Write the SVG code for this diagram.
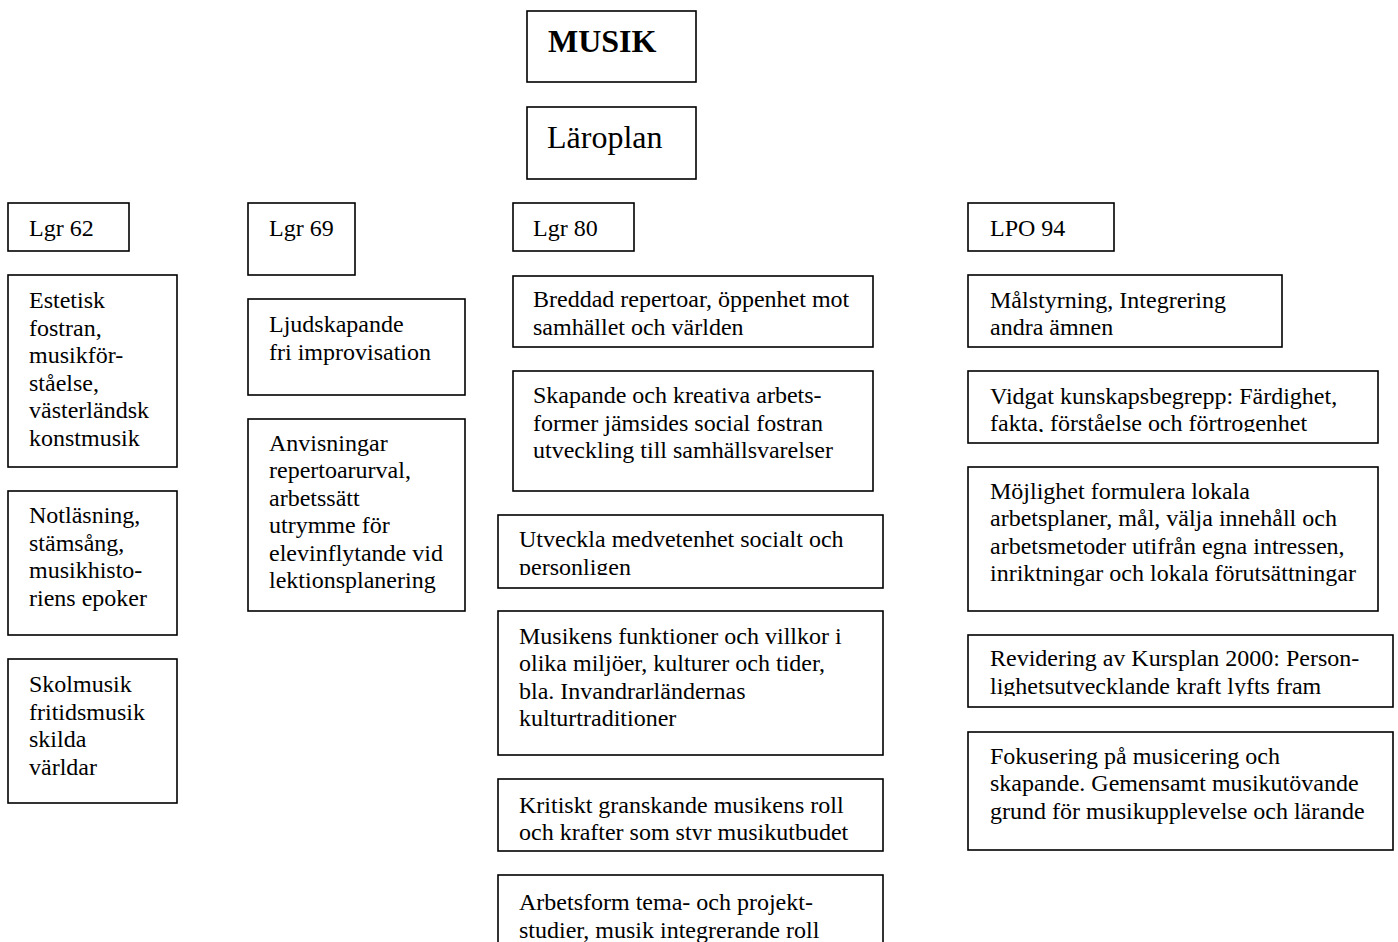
<svg xmlns="http://www.w3.org/2000/svg" width="1398" height="942" viewBox="0 0 1398 942">
<style>
.box{fill:#fff;stroke:#000;stroke-width:1.6}
.t{font-family:"Liberation Serif","Times New Roman",serif;font-size:24px;fill:#000}
.big{font-family:"Liberation Serif","Times New Roman",serif;font-size:32px;fill:#000}
</style>
<defs>
<clipPath id="cUtv"><rect x="498" y="515" width="385" height="60"/></clipPath>
<clipPath id="cVid"><rect x="968" y="371" width="410" height="61"/></clipPath>
<clipPath id="cRev"><rect x="968" y="635" width="425" height="61"/></clipPath>
<clipPath id="cKri"><rect x="498" y="779" width="385" height="61"/></clipPath>
</defs>
<rect width="1398" height="942" fill="#fff"/>
<g id="connectors"></g>

<g id="musik"><rect class="box" x="527" y="11" width="169" height="71"/><text class="big" x="548" y="52" font-weight="bold">MUSIK</text></g>
<g id="laroplan"><rect class="box" x="527" y="107" width="169" height="72"/><text class="big" x="547" y="148">Läroplan</text></g>

<g id="lgr62"><rect class="box" x="8" y="203" width="121" height="48"/><text class="t" x="29" y="236">Lgr 62</text></g>
<g id="estetisk"><rect class="box" x="8" y="275" width="169" height="192"/>
<text class="t" x="29" y="308">Estetisk</text><text class="t" x="29" y="335.6">fostran,</text><text class="t" x="29" y="363.2">musikför-</text><text class="t" x="29" y="390.8">ståelse,</text><text class="t" x="29" y="418.4">västerländsk</text><text class="t" x="29" y="446">konstmusik</text></g>
<g id="notlasning"><rect class="box" x="8" y="491" width="169" height="144"/>
<text class="t" x="29" y="523">Notläsning,</text><text class="t" x="29" y="550.6">stämsång,</text><text class="t" x="29" y="578.2">musikhisto-</text><text class="t" x="29" y="605.8">riens epoker</text></g>
<g id="skolmusik"><rect class="box" x="8" y="659" width="169" height="144"/>
<text class="t" x="29" y="692">Skolmusik</text><text class="t" x="29" y="719.6">fritidsmusik</text><text class="t" x="29" y="747.2">skilda</text><text class="t" x="29" y="774.8">världar</text></g>

<g id="lgr69"><rect class="box" x="248" y="203" width="107" height="72"/><text class="t" x="269" y="236">Lgr 69</text></g>
<g id="ljudskapande"><rect class="box" x="248" y="299" width="217" height="96"/>
<text class="t" x="269" y="332">Ljudskapande</text><text class="t" x="269" y="359.6">fri improvisation</text></g>
<g id="anvisningar"><rect class="box" x="248" y="419" width="217" height="192"/>
<text class="t" x="269" y="450.5">Anvisningar</text><text class="t" x="269" y="478">repertoarurval,</text><text class="t" x="269" y="505.6">arbetssätt</text><text class="t" x="269" y="533.2">utrymme för</text><text class="t" x="269" y="560.8">elevinflytande vid</text><text class="t" x="269" y="588.4">lektionsplanering</text></g>

<g id="lgr80"><rect class="box" x="513" y="203" width="121" height="48"/><text class="t" x="533" y="236">Lgr 80</text></g>
<g id="breddad"><rect class="box" x="513" y="276" width="360" height="71"/>
<text class="t" x="533" y="307">Breddad repertoar, öppenhet mot</text><text class="t" x="533" y="334.6">samhället och världen</text></g>
<g id="skapande"><rect class="box" x="513" y="371" width="360" height="120"/>
<text class="t" x="533" y="403">Skapande och kreativa arbets-</text><text class="t" x="533" y="430.6">former jämsides social fostran</text><text class="t" x="533" y="458.2">utveckling till samhällsvarelser</text></g>
<g id="utveckla"><rect class="box" x="498" y="515" width="385" height="73"/>
<g clip-path="url(#cUtv)"><text class="t" x="519" y="547">Utveckla medvetenhet socialt och</text><text class="t" x="519" y="574.6">personligen</text></g></g>
<g id="musikens"><rect class="box" x="498" y="611" width="385" height="144"/>
<text class="t" x="519" y="643.5">Musikens funktioner och villkor i</text><text class="t" x="519" y="671.1">olika miljöer, kulturer och tider,</text><text class="t" x="519" y="698.7">bla. Invandrarländernas</text><text class="t" x="519" y="726.3">kulturtraditioner</text></g>
<g id="kritiskt"><rect class="box" x="498" y="779" width="385" height="72"/>
<g clip-path="url(#cKri)"><text class="t" x="519" y="812.5">Kritiskt granskande musikens roll</text><text class="t" x="519" y="840.1">och krafter som styr musikutbudet</text></g></g>
<g id="arbetsform"><rect class="box" x="498" y="875" width="385" height="100"/>
<text class="t" x="519" y="910">Arbetsform tema- och projekt-</text><text class="t" x="519" y="937.6">studier, musik integrerande roll</text></g>

<g id="lpo94"><rect class="box" x="968" y="203" width="146" height="48"/><text class="t" x="990" y="236">LPO 94</text></g>
<g id="malstyrning"><rect class="box" x="968" y="275" width="314" height="72"/>
<text class="t" x="990" y="307.5">Målstyrning, Integrering</text><text class="t" x="990" y="335.1">andra ämnen</text></g>
<g id="vidgat"><rect class="box" x="968" y="371" width="410" height="72"/>
<g clip-path="url(#cVid)"><text class="t" x="990" y="403.5">Vidgat kunskapsbegrepp: Färdighet,</text><text class="t" x="990" y="431.1">fakta, förståelse och förtrogenhet</text></g></g>
<g id="mojlighet"><rect class="box" x="968" y="467" width="410" height="144"/>
<text class="t" x="990" y="498.5">Möjlighet formulera lokala</text><text class="t" x="990" y="526.1">arbetsplaner, mål, välja innehåll och</text><text class="t" x="990" y="553.7">arbetsmetoder utifrån egna intressen,</text><text class="t" x="990" y="581.3">inriktningar och lokala förutsättningar</text></g>
<g id="revidering"><rect class="box" x="968" y="635" width="425" height="72"/>
<g clip-path="url(#cRev)"><text class="t" x="990" y="666">Revidering av Kursplan 2000: Person-</text><text class="t" x="990" y="693.6">lighetsutvecklande kraft lyfts fram</text></g></g>
<g id="fokusering"><rect class="box" x="968" y="732" width="425" height="118"/>
<text class="t" x="990" y="763.5">Fokusering på musicering och</text><text class="t" x="990" y="791.1">skapande. Gemensamt musikutövande</text><text class="t" x="990" y="818.7">grund för musikupplevelse och lärande</text></g>
</svg>
